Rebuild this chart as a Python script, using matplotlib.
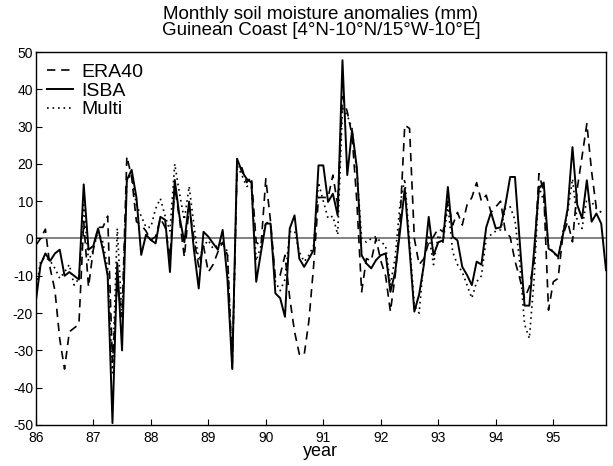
import numpy as np
import matplotlib
matplotlib.use("Agg")
import matplotlib.pyplot as plt

plt.rcParams['font.family'] = ['Liberation Sans', 'DejaVu Sans']
plt.rcParams['axes.unicode_minus'] = False

# monthly anomalies (mm), starting Jan 1986
isba = [-17, -7, -4, -6, -4, -3, -10, -9, -10, -11,
        14.5, -3, -2, 2.7, -3, -10, -49.5, -6.6, -30, 15.7,
        18.4, 11, -4.4, 1, -0.4, -1.3, 5.8, 5, -9, 15.7,
        5.8, -1, 9.9, -3, -13.4, 1.8, 0.5, -1.3, -3, 2.3,
        -11, -35, 21.4, 18, 16, 15, -11.6, -3.6, 4, 4,
        -14.7, -16, -21, 2.7, 6.2, -5.4, -7.6, -5.4, -3, 19.6,
        19.6, 9.8, 12, 6.2, 47.8, 17, 29, 19, -4.5, -6.7,
        -8, -5.8, -4.5, -4, -14.3, -9, 1.8, 13.4, -3, -19.6,
        -15, -7, 5.8, -4.5, -1, -0.5, 13.8, 0.5, -0.5, -7.6,
        -9.8, -12.5, -6.2, -7, 3, 7, 2.7, 3, 9, 16.5,
        16.5, -1, -18, -18, -3, 13.4, 15, -2.7, -3.6, -4.9,
        0.9, 8, 24.5, 9, 5.4, 15.6, 4.5, 6.7, 4, -8.5]

era40 = [-1.8, 0, 2.5, -8, -14, -27, -35, -25, -24, -23,
         4.5, -13, -3, 3, 3, 6, -33, -12, -21, 22,
         16.5, 4.5, 3.6, 2, -0.4, 0.5, 5.4, 3, -5, 14,
         5, -5, 8.5, 0, -7.6, -2, -9, -7, -3.6, -1,
         -4.5, -34, 18, 19, 15, 16.5, -1, -2, 16, 4.5,
         -10.7, -9.8, -4.5, -16, -25, -31, -31.3, -22, -7, 11,
         11, 11, 17, 9, 38, 34, 27.7, 9.8, -14.3, -5.4,
         -6, 0, -6, -10, -19.6, -10, 4.5, 30.4, 29.5, 0,
         -7, -5.4, -1, 0.5, 2.7, 1.8, 10, 3.6, 7, 3.6,
         9, 11, 15, 10, 11.6, 7, 8.5, 10, 1.8, 0.4,
         -6, -10.7, -16, -13, -6, 17.4, 12.5, -19.2, -11.6, -10.7,
         0.9, 4.5, -0.9, 13.4, 22, 30.8, 17.9, 8, 7]

multi = [-14, -6, -5, -6, -8, -10.7, -9, -7, -12.5, -10.7,
         9, -6, -3, 2, -1, -8, -36, 2.7, -21, 16,
         17, 9, 6, 3, 3, 8, 10.7, 6, 2, 20,
         12, 5, 14, 3.6, -6, -2, -0.5, -2.7, -1.8, -1,
         -3.6, -35, 19.6, 17, 14, 14, -6, -2, 4.5, 3.6,
         -11.6, -14, -11, 1.8, 2, -3.6, -6.2, -4.5, -1.8, 15,
         10, 5.4, 6, 1, 35, 33, 29.5, 18, 0, -1,
         0, 0.5, -1, -1.8, -12.5, -5, 9, 16, -1, -18,
         -20, -5.4, 1, -7, 1, -1, 9, -3.6, -7, -9,
         -12.5, -16, -11.6, -10, 0, 1, 2, 2.3, 8, 8.5,
         5, -6.5, -23, -26.8, -10.7, 14, 10, -2, -3.6, -5.4,
         1.8, 7, 16, 4.5, 2.7, 10.7, 9.8, 8, 7]

year_ticks = [86, 87, 88, 89, 90, 91, 92, 93, 94, 95]

t_isba = 86 + np.arange(len(isba)) / 12.0
t_era = 86 + np.arange(len(era40)) / 12.0
t_multi = 86 + np.arange(len(multi)) / 12.0

fig = plt.figure(figsize=(6.13, 4.66), dpi=100)
ax = fig.add_axes([0.0584, 0.088, 0.9302, 0.8004])

ax.axhline(0, color='#777777', lw=1.3, zorder=1)
ax.plot(t_era, era40, color='black', lw=1.2, linestyle=(0, (5, 3.5)), label='ERA40')
ax.plot(t_isba, isba, color='black', lw=1.4, label='ISBA')
ax.plot(t_multi, multi, color='black', lw=1.2, linestyle=(0, (1, 2.3)), label='Multi')

ax.set_xlim(86, 86 + 119 / 12.0)
ax.set_ylim(-50, 50)
ax.set_xticks(year_ticks)
ax.set_xticklabels([str(y) for y in year_ticks])
ax.set_yticks(np.arange(-50, 51, 10))
ax.tick_params(direction='in', length=4, labelsize=10, pad=2)
ax.tick_params(axis='x', pad=4)
for s in ax.spines.values():
    s.set_linewidth(1.0)

ax.set_xlabel('year', fontsize=13, labelpad=-1)
ax.set_title('Monthly soil moisture anomalies (mm)\nGuinean Coast [4°N-10°N/15°W-10°E]',
             fontsize=13.5, linespacing=0.95, pad=12)

leg = ax.legend(loc='upper left', fontsize=14, frameon=False, handlelength=1.3,
                handletextpad=0.45, labelspacing=0.05, borderaxespad=0.2,
                bbox_to_anchor=(0.0, 1.0))

fig.savefig('out.png', dpi=100)
